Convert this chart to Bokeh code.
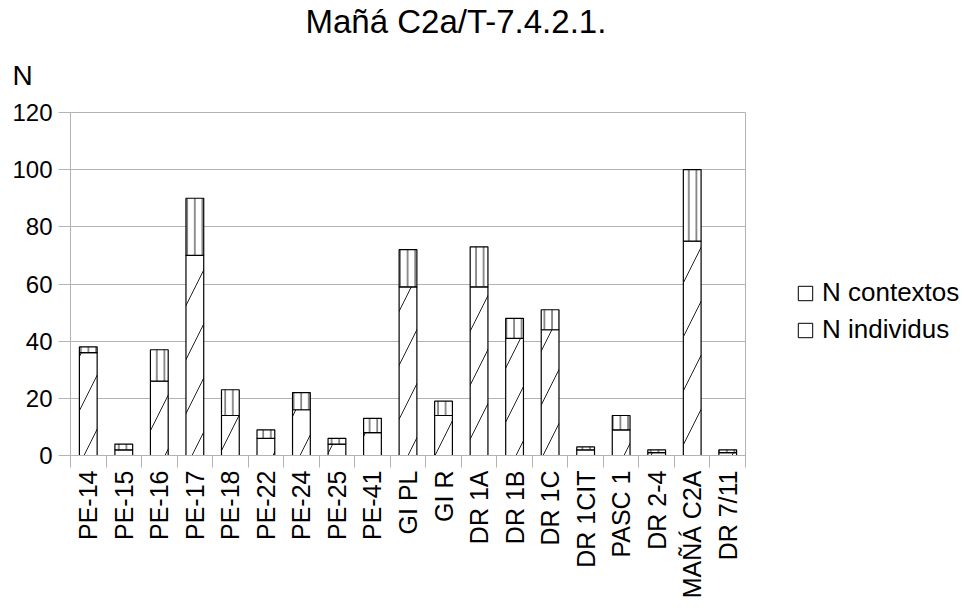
from bokeh.plotting import figure
from bokeh.models import (ColumnDataSource, FixedTicker, Range1d, Title, Legend, LegendItem)
from bokeh.embed import file_html
from bokeh.resources import INLINE
from math import pi

title_text = "Mañá C2a/T-7.4.2.1."
y_label = "N"
categories = ["PE-14", "PE-15", "PE-16", "PE-17", "PE-18", "PE-22", "PE-24", "PE-25",
              "PE-41", "GI PL", "GI R", "DR 1A", "DR 1B", "DR 1C", "DR 1CIT", "PASC 1",
              "DR 2-4", "MAÑÁ C2A", "DR 7/11"]
n_contextos = [36, 2, 26, 70, 14, 6, 16, 4, 8, 59, 14, 59, 41, 44, 2, 9, 1, 75, 1]
n_individus = [2, 2, 11, 20, 9, 3, 6, 2, 5, 13, 5, 14, 7, 7, 1, 5, 1, 25, 1]
series_names = ["N contextos", "N individus"]
y_ticks = [0, 20, 40, 60, 80, 100, 120]

FONT = "Liberation Sans"
GRAY = "#b3b3b3"

xs = [i + 0.5 for i in range(len(categories))]
src = ColumnDataSource(dict(x=xs, contextos=n_contextos, individus=n_individus))

p = figure(frame_width=675, frame_height=343, output_backend="svg", toolbar_location=None,
           x_range=Range1d(0, len(categories)), y_range=Range1d(0, 120),
           min_border_left=70, min_border_top=111, min_border_right=213, min_border_bottom=5)

p.vbar_stack(["contextos", "individus"], x="x", width=0.5, source=src,
             fill_color="white", line_color="black", line_width=1.2,
             hatch_pattern=["/", "|"], hatch_scale=[54, 7.6], hatch_color="#222222",
             hatch_weight=1)

# axes
p.yaxis.ticker = FixedTicker(ticks=y_ticks)
p.yaxis.axis_line_color = GRAY
p.yaxis.major_tick_line_color = GRAY
p.yaxis.major_tick_out = 12
p.yaxis.major_tick_in = 0
p.yaxis.minor_tick_line_color = None
p.yaxis.major_label_text_font = FONT
p.yaxis.major_label_text_font_size = "24px"
p.yaxis.major_label_text_color = "black"
p.yaxis.major_label_standoff = 6

p.xaxis.ticker = FixedTicker(ticks=xs, minor_ticks=list(range(len(categories) + 1)))
p.xaxis.major_label_overrides = {x: c for x, c in zip(xs, categories)}
p.xaxis.major_label_orientation = pi / 2
p.xaxis.axis_line_color = GRAY
p.xaxis.major_tick_line_color = None
p.xaxis.major_tick_out = 12
p.xaxis.major_tick_in = 0
p.xaxis.minor_tick_line_color = GRAY
p.xaxis.minor_tick_out = 12
p.xaxis.minor_tick_in = 0
p.xaxis.major_label_text_font = FONT
p.xaxis.major_label_text_font_size = "25px"
p.xaxis.major_label_text_color = "black"
p.xaxis.major_label_standoff = 3

p.xgrid.visible = False
p.ygrid.ticker = FixedTicker(ticks=y_ticks)
p.ygrid.grid_line_color = GRAY
p.outline_line_color = GRAY

# legend with plain square glyphs (dummy renderers placed outside the visible range)
dummy = ColumnDataSource(dict(x=[-10], y=[-10]))
r1 = p.rect(x="x", y="y", width=1, height=1, source=dummy, fill_color="white", line_color="black", line_width=1)
r2 = p.rect(x="x", y="y", width=1, height=1, source=dummy, fill_color="white", line_color="black", line_width=1)
legend = Legend(items=[LegendItem(label=series_names[0], renderers=[r1]),
                       LegendItem(label=series_names[1], renderers=[r2])],
                location=(51, 110), border_line_color=None, background_fill_alpha=0,
                padding=0, margin=0, glyph_width=18, glyph_height=18, label_standoff=8,
                label_text_font=FONT, label_text_font_size="26px", label_text_color="black",
                label_height=28, spacing=6)
p.add_layout(legend, "right")

p.add_layout(Title(text=y_label, align="left", offset=-58, text_font=FONT,
                   text_font_size="28px", text_font_style="normal", text_color="black",
                   vertical_align="top", standoff=40), "above")
p.add_layout(Title(text=title_text, align="left", offset=235, text_font=FONT,
                   text_font_size="33px", text_font_style="normal", text_color="black",
                   standoff=0), "above")

open("out.html", "w").write(file_html(p, INLINE))
